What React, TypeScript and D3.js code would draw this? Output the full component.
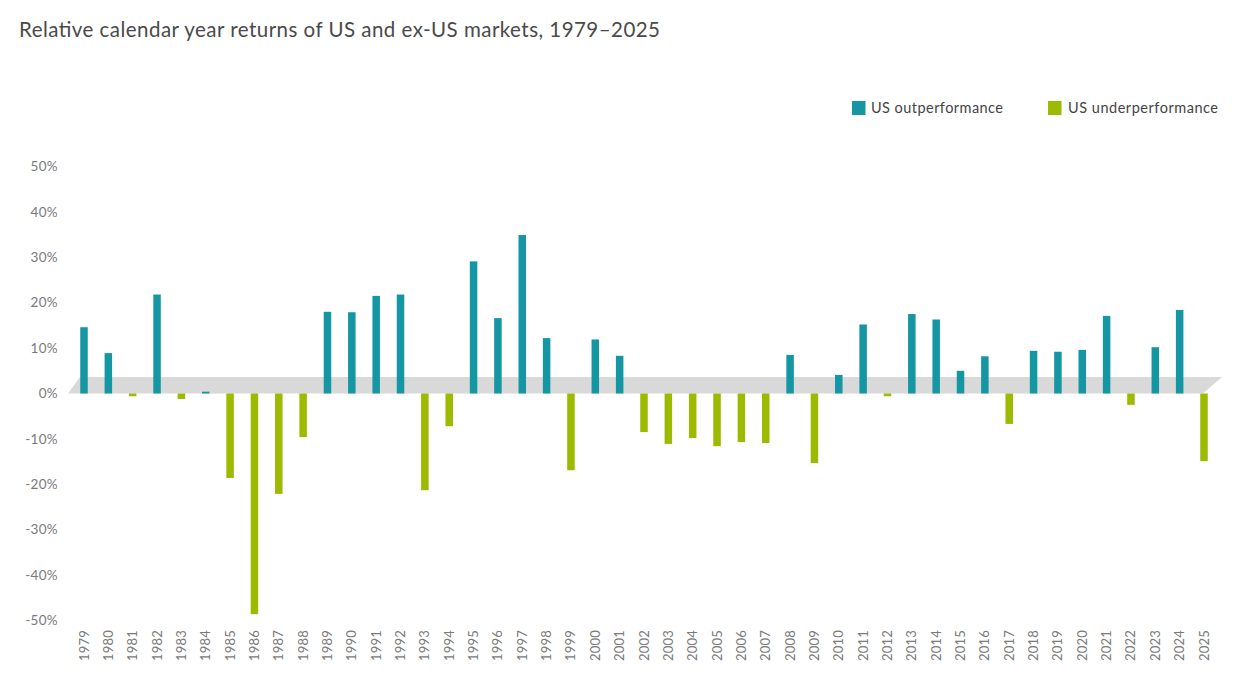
import React from "react";
import * as d3 from "d3";

// Relative calendar-year returns (US minus ex-US), percent
const years: number[] = [
  1979, 1980, 1981, 1982, 1983, 1984, 1985, 1986, 1987, 1988,
  1989, 1990, 1991, 1992, 1993, 1994, 1995, 1996, 1997, 1998,
  1999, 2000, 2001, 2002, 2003, 2004, 2005, 2006, 2007, 2008,
  2009, 2010, 2011, 2012, 2013, 2014, 2015, 2016, 2017, 2018,
  2019, 2020, 2021, 2022, 2023, 2024, 2025,
];
const relativeReturns: number[] = [
  14.6, 8.9, -0.6, 21.8, -1.2, 0.4, -18.6, -48.6, -22.1, -9.6,
  18.0, 17.9, 21.5, 21.8, -21.3, -7.2, 29.1, 16.6, 34.9, 12.2,
  -16.9, 11.9, 8.3, -8.5, -11.1, -9.8, -11.6, -10.7, -10.9, 8.5,
  -15.3, 4.1, 15.2, -0.6, 17.5, 16.3, 5.0, 8.2, -6.7, 9.4,
  9.2, 9.6, 17.1, -2.5, 10.2, 18.4, -14.9,
];
const yTicks: number[] = [50, 40, 30, 20, 10, 0, -10, -20, -30, -40, -50];
const seriesNames: string[] = ["US outperformance", "US underperformance"];
const seriesColors: string[] = ["#1596a3", "#9cba00"];

const W = 1245;
const H = 696;
const FONT = "Lato, 'Noto Sans', sans-serif";

export default function App() {
  const x = d3.scalePoint<number>().domain(years).range([84, 1204]);
  const y = d3.scaleLinear().domain([-50, 50]).range([620.5, 166.5]);
  const barW = 7.5;
  const y0 = y(0);

  // Slanted floor band behind the zero line
  const bandTop = y0 - 16.5;
  const xFirst = x(years[0])!;
  const xLast = x(years[years.length - 1])!;
  const floor = d3.path();
  floor.moveTo(xFirst - 16, y0);
  floor.lineTo(xFirst - 4, bandTop);
  floor.lineTo(xLast + 18, bandTop);
  floor.lineTo(xLast - 1, y0);
  floor.closePath();

  return (
    <svg
      width={W}
      height={H}
      style={{ position: "absolute", left: 0, top: 0, background: "#fff" }}
      fontFamily={FONT}
    >
      <text
        x={19}
        y={37}
        fontSize={20.5}
        fill="#4a4a4a"
        textLength={641}
        lengthAdjust="spacing"
      >
        Relative calendar year returns of US and ex-US markets, 1979–2025
      </text>

      {/* legend */}
      <g>
        <rect x={852} y={101} width={13.5} height={14} fill={seriesColors[0]} />
        <text x={871} y={113} fontSize={14.5} fill="#444" textLength={132} lengthAdjust="spacing">
          {seriesNames[0]}
        </text>
        <rect x={1048} y={101} width={13.5} height={14} fill={seriesColors[1]} />
        <text x={1068} y={113} fontSize={14.5} fill="#444" textLength={150} lengthAdjust="spacing">
          {seriesNames[1]}
        </text>
      </g>

      <path d={floor.toString()} fill="#d9d9d9" />

      {/* y axis labels */}
      <g>
        {yTicks.map((t) => (
          <text
            key={t}
            x={58}
            y={y(t)}
            dy="0.35em"
            textAnchor="end"
            fontSize={13.5}
            letterSpacing={0.3}
            fill="#7a7a7a"
          >
            {`${t}%`}
          </text>
        ))}
      </g>

      {/* bars */}
      <g>
        {years.map((yr, i) => {
          const v = relativeReturns[i];
          const top = y(Math.max(0, v));
          const h = Math.abs(y(v) - y0);
          return (
            <rect
              key={yr}
              x={x(yr)! - barW / 2}
              y={top}
              width={barW}
              height={Math.max(h, 1)}
              fill={v >= 0 ? seriesColors[0] : seriesColors[1]}
            />
          );
        })}
      </g>

      {/* x axis labels */}
      <g>
        {years.map((yr) => (
          <text
            key={yr}
            transform={`translate(${x(yr)! + 4.5},630) rotate(-90)`}
            textAnchor="end"
            fontSize={13}
            letterSpacing={0.2}
            fill="#7a7a7a"
          >
            {yr}
          </text>
        ))}
      </g>
    </svg>
  );
}
